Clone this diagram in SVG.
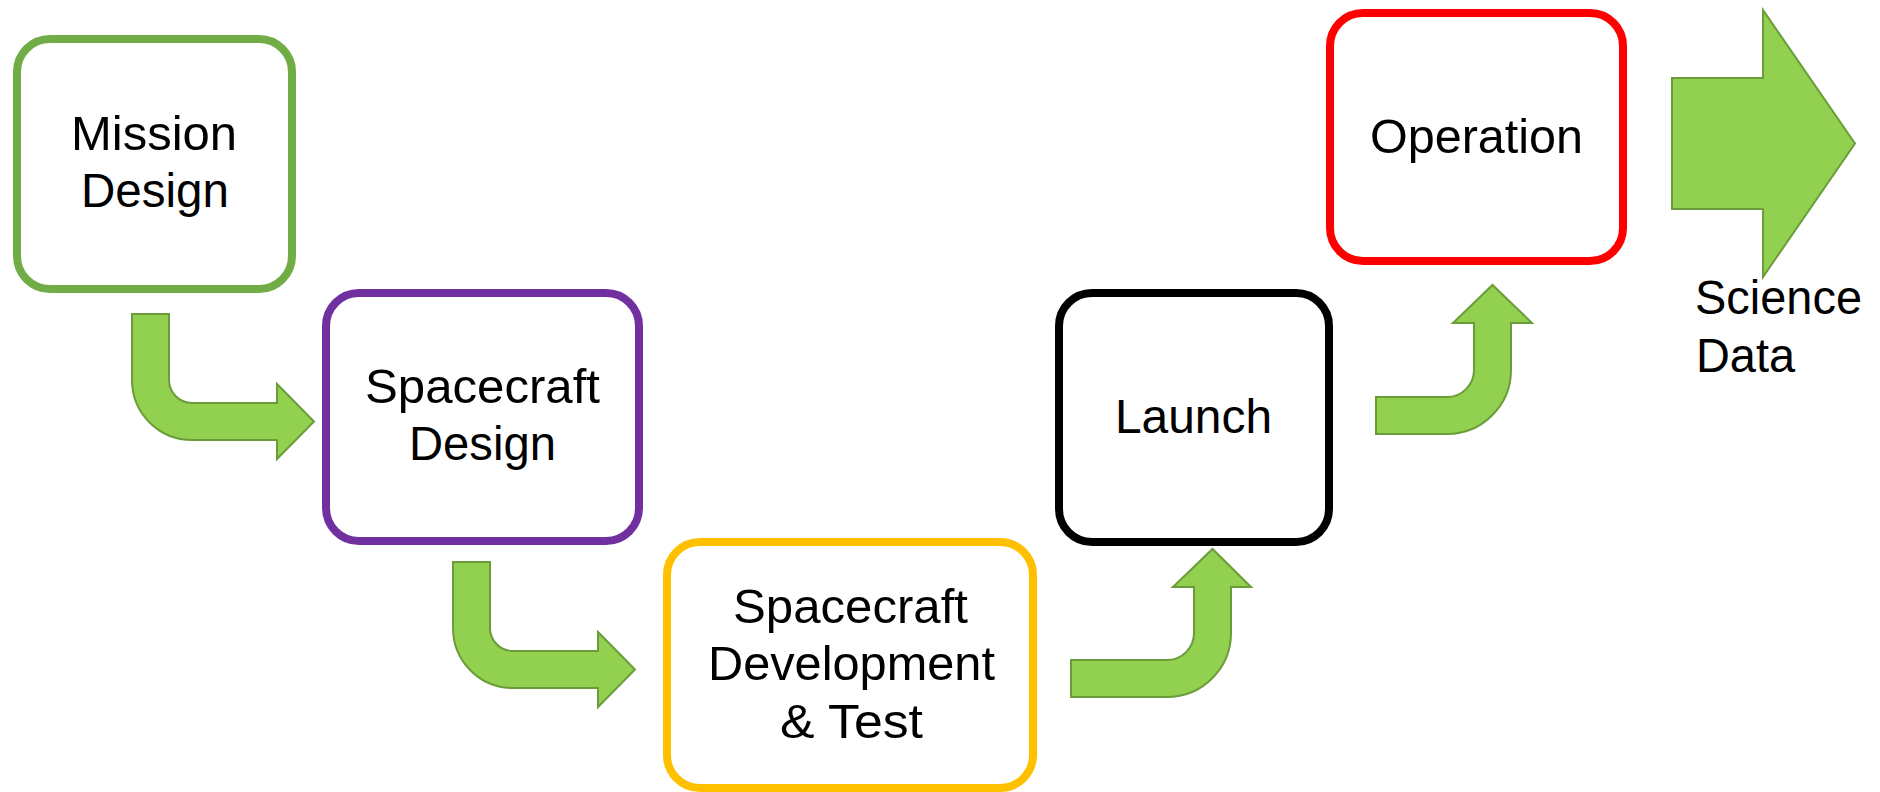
<svg xmlns="http://www.w3.org/2000/svg" width="1880" height="792" viewBox="0 0 1880 792">
  <style>
    .box { fill: #ffffff; stroke-width: 8; }
    .lbl { font-family: "Liberation Sans", Arial, sans-serif; font-size: 48px; fill: #000000; }
    .arrow { fill: #92d050; stroke: #6a9c3a; stroke-width: 2; stroke-linejoin: miter; }
  </style>
  <rect width="1880" height="792" fill="#ffffff"/>

  <!-- process stages -->
  <g id="mission-design">
    <rect class="box" x="17" y="39" width="275" height="250" rx="33" stroke="#70ad47"/>
    <text class="lbl" x="71" y="150" textLength="166" lengthAdjust="spacingAndGlyphs">Mission</text>
    <text class="lbl" x="81" y="207" textLength="148" lengthAdjust="spacingAndGlyphs">Design</text>
  </g>

  <g id="spacecraft-design">
    <rect class="box" x="326" y="293" width="313" height="248" rx="33" stroke="#7030a0"/>
    <text class="lbl" x="365" y="403" textLength="235" lengthAdjust="spacingAndGlyphs">Spacecraft</text>
    <text class="lbl" x="409" y="460" textLength="147" lengthAdjust="spacingAndGlyphs">Design</text>
  </g>

  <g id="development-test">
    <rect class="box" x="667" y="542" width="366" height="246" rx="33" stroke="#ffc000"/>
    <text class="lbl" x="733" y="623" textLength="235" lengthAdjust="spacingAndGlyphs">Spacecraft</text>
    <text class="lbl" x="708" y="680" textLength="287" lengthAdjust="spacingAndGlyphs">Development</text>
    <text class="lbl" x="780" y="738" textLength="143" lengthAdjust="spacingAndGlyphs">&amp; Test</text>
  </g>

  <g id="launch">
    <rect class="box" x="1059" y="293" width="270" height="249" rx="33" stroke="#000000"/>
    <text class="lbl" x="1115" y="433" textLength="157" lengthAdjust="spacingAndGlyphs">Launch</text>
  </g>

  <g id="operation">
    <rect class="box" x="1330" y="13" width="293" height="248" rx="33" stroke="#ff0000"/>
    <text class="lbl" x="1370" y="153" textLength="213" lengthAdjust="spacingAndGlyphs">Operation</text>
  </g>

  <g id="science-data">
    <path class="arrow" d="M1672,78 H1763 V10 L1855,143.5 L1763,277 V209 H1672 Z"/>
    <text class="lbl" x="1695" y="314" textLength="167" lengthAdjust="spacingAndGlyphs">Science</text>
    <text class="lbl" x="1696" y="372" textLength="99" lengthAdjust="spacingAndGlyphs">Data</text>
  </g>

  <!-- bent block arrows between stages -->
  <g id="connectors">
    <path class="arrow" d="M132,314 H169 V380 A23,23 0 0 0 192,403 H277 V384 L314,421.5 L277,459 V440 H192 A60,60 0 0 1 132,380 Z"/>
    <path class="arrow" d="M453,562 H490 V628 A23,23 0 0 0 513,651 H598 V632 L635,669.5 L598,707 V688 H513 A60,60 0 0 1 453,628 Z"/>
    <path class="arrow" d="M1071,660 H1167 A27,27 0 0 0 1194,633 V587 H1173 L1212.5,549 L1251,587 H1231 V633 A64,64 0 0 1 1167,697 H1071 Z"/>
    <path class="arrow" d="M1376,397 H1447 A27,27 0 0 0 1474,370 V323 H1453 L1492.5,285 L1532,323 H1511 V370 A64,64 0 0 1 1447,434 H1376 Z"/>
  </g>
</svg>
